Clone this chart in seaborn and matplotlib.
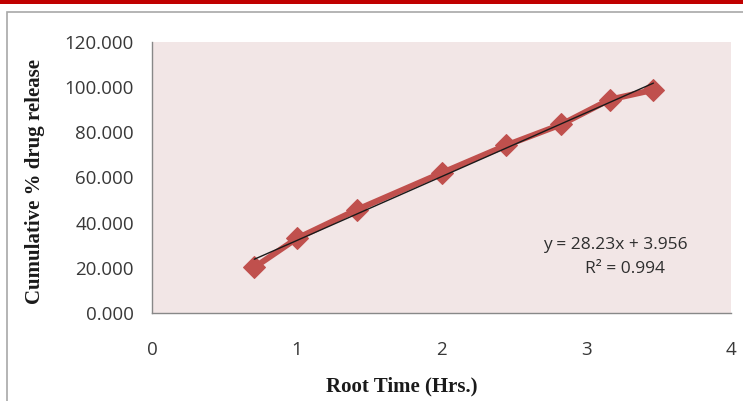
import numpy as np
import pandas as pd
import matplotlib
matplotlib.use("Agg")
import matplotlib.pyplot as plt
import seaborn as sns
from matplotlib.patches import Rectangle

# ---- data ----
time_hrs = [0.5, 1, 2, 4, 6, 8, 10, 12]
root_time = [0.707, 1.0, 1.414, 2.0, 2.449, 2.828, 3.162, 3.464]
cum_release = [20.2, 33.0, 45.7, 62.0, 74.3, 83.5, 94.5, 98.8]
x_ticks = [0, 1, 2, 3, 4]
y_ticks = [0, 20, 40, 60, 80, 100, 120]
equation_text = "y = 28.23x + 3.956"
r2_text = "R² = 0.994"
x_label = "Root Time (Hrs.)"
y_label = "Cumulative % drug release"

df = pd.DataFrame({"root_time": root_time, "release": cum_release})

sns.set_style("white")
plt.rcParams["font.family"] = ["Open Sans", "DejaVu Sans"]

W, H = 743, 401
fig = plt.figure(figsize=(W / 100, H / 100), dpi=100)

# decorations: red top band and outer chart border
fig.patches.append(Rectangle((0, 1 - 3.5 / H), 1, 3.5 / H, transform=fig.transFigure,
                             facecolor="#c00000", edgecolor="none", zorder=0))
fig.patches.append(Rectangle((7 / W, -0.05), 1.0, 1 - 12 / H + 0.05, transform=fig.transFigure,
                             facecolor="none", edgecolor="#a8a8a8", lw=1.2, zorder=0))

ax = fig.add_axes([152 / W, 1 - 313 / H, (731 - 152) / W, (313 - 42) / H])
ax.set_facecolor("#f2e6e6")

sns.lineplot(data=df, x="root_time", y="release", ax=ax, color="#c0504d",
             lw=4.3, marker="D", markersize=11, markeredgecolor="#c0504d",
             sort=False, zorder=3)
sns.regplot(data=df, x="root_time", y="release", ax=ax, scatter=False, ci=None,
            truncate=True, line_kws={"color": "#1a1a1a", "lw": 1.0, "zorder": 4})

ax.set_xlim(0, 4)
ax.set_ylim(0, 120)
ax.set_xticks(x_ticks)
ax.set_xticklabels([str(t) for t in x_ticks])
ax.set_yticks(y_ticks)
ax.set_yticklabels([f"{t:.3f}" for t in y_ticks])
ax.tick_params(axis="both", direction="out", length=4, width=1, color="#888888",
               labelcolor="#383838", labelsize=13.5)
ax.tick_params(axis="y", pad=9)
ax.tick_params(axis="x", pad=16)
ax.set_xlabel("")
ax.set_ylabel("")
for s in ["top", "right"]:
    ax.spines[s].set_visible(False)
for s in ["left", "bottom"]:
    ax.spines[s].set_color("#888888")
    ax.spines[s].set_linewidth(1)

fig.text(402 / W, 1 - 386 / H, x_label, ha="center", va="center",
         family=["Liberation Serif"], fontweight="bold", fontsize=15, color="#1a1a1a")
fig.text(35 / W, 1 - 181 / H, y_label, ha="center", va="center", rotation=90,
         family=["Liberation Serif"], fontweight="bold", fontsize=15, color="#1a1a1a")

fig.text(615 / W, 1 - 245 / H, equation_text, ha="center", va="center",
         fontsize=12.5, color="#2e2e2e")
fig.text(625 / W, 1 - 269 / H, r2_text, ha="center", va="center",
         fontsize=12.5, color="#2e2e2e")

fig.savefig("out.png", dpi=100)
